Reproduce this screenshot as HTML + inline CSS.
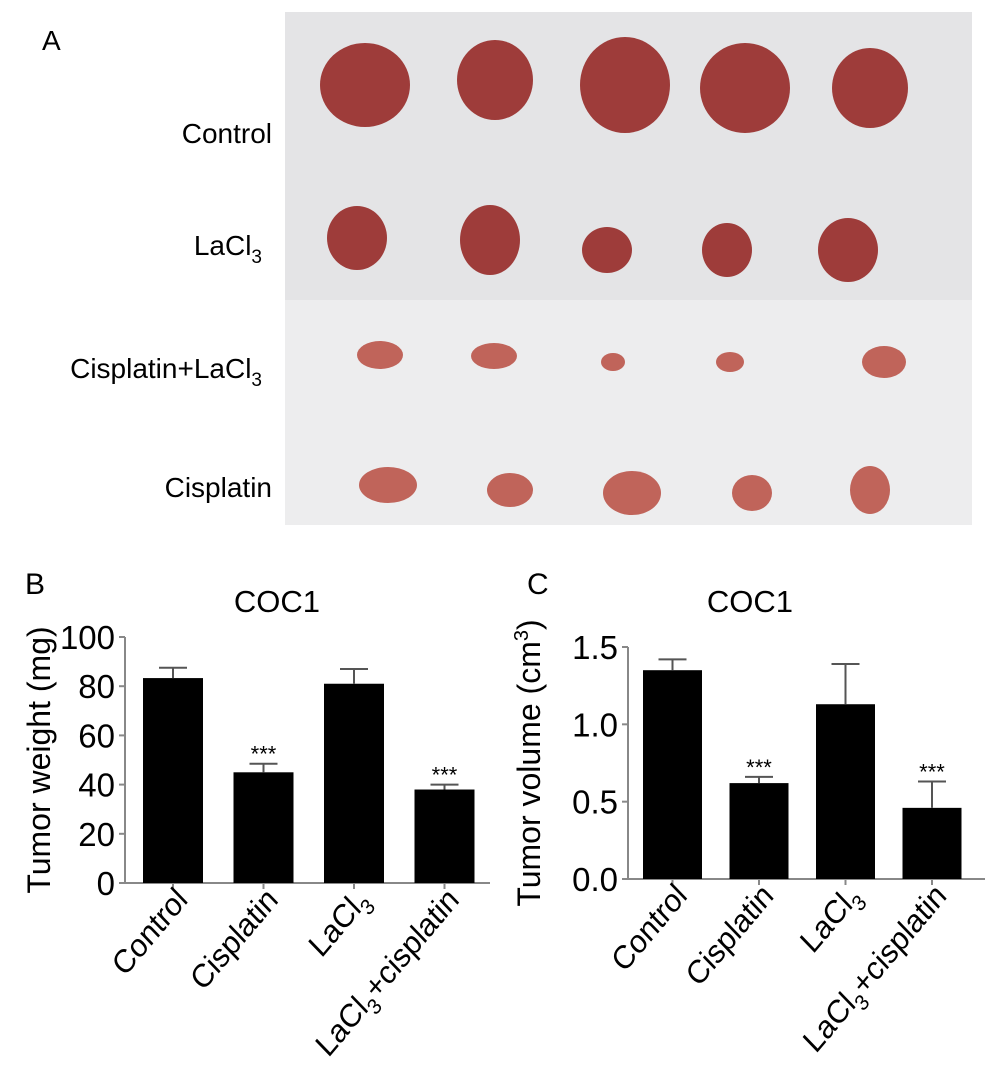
<!DOCTYPE html>
<html><head><meta charset="utf-8"><style>
body{margin:0;background:#fff;}
svg{display:block;font-family:"Liberation Sans",Arial,sans-serif;}
</style></head><body>
<svg id="fig" width="989" height="1073" viewBox="0 0 989 1073">
<g>
<text x="42" y="50" font-size="28">A</text>
<rect x="285" y="12" width="687" height="513" fill="#e4e4e6"/>
<rect x="285" y="300" width="687" height="225" fill="#ededee"/>
<text x="272" y="143" font-size="28" text-anchor="end">Control</text>
<text x="262" y="255" font-size="28" text-anchor="end">LaCl<tspan font-size="19" dy="8">3</tspan></text>
<text x="262" y="378" font-size="28" text-anchor="end">Cisplatin+LaCl<tspan font-size="19" dy="8">3</tspan></text>
<text x="272" y="497" font-size="28" text-anchor="end">Cisplatin</text>
<g id="tumors"></g>
</g>
<g id="chartB"></g>
<g id="chartC"></g>
</svg>
<script>
const categories = ["Control","Cisplatin","LaCl3","LaCl3+cisplatin"];
const weightValues = [83.3, 45, 81, 38];
const weightErrors = [4.2, 3.5, 6, 2];
const weightTicks = [0,20,40,60,80,100];
const volumeValues = [1.35, 0.62, 1.13, 0.46];
const volumeErrors = [0.07, 0.04, 0.26, 0.17];
const volumeTicks = ["0.0","0.5","1.0","1.5"];
const tumorRows = [
 [[365,85,45,42],[495,80,38,40],[625,85,45,48],[745,88,45,45],[870,88,38,40]],
 [[357,238,30,32],[490,240,30,35],[607,250,25,23],[727,250,25,27],[848,250,30,32]],
 [[380,355,23,14],[494,356,23,13],[613,362,12,9],[730,362,14,10],[884,362,22,16]],
 [[388,485,29,18],[510,490,23,17],[632,493,29,22],[752,493,20,18],[870,490,20,24]]
];
const NS="http://www.w3.org/2000/svg";
function mk(p,t,a){const e=document.createElementNS(NS,t);for(const k in a)e.setAttribute(k,a[k]);p.appendChild(e);return e;}
const tg=document.getElementById('tumors');
tumorRows.forEach((row,ri)=>row.forEach((t,i)=>{
 const e=mk(tg,'ellipse',{cx:t[0],cy:t[1],rx:t[2],ry:t[3],fill:ri<2?'#9e3c3a':'#c0645a'});
 
 
}));
function chart(id,o){
 const g=document.getElementById(id);
 const y=v=>o.y0-(v-o.min)/(o.max-o.min)*(o.y0-o.yTop);
 const lb=mk(g,'text',{x:o.panelX,y:594,'font-size':30});lb.textContent=o.panel;
 
 
 const tt=mk(g,'text',{x:o.titleX,y:612,'font-size':31,'text-anchor':'middle'});tt.textContent='COC1';
 
 
 const yl=mk(g,'text',{transform:`translate(${o.ylabX},${(o.y0+o.yTop)/2}) rotate(-90)`,'font-size':32,'text-anchor':'middle'});
 yl.innerHTML=o.ylab;
 
 
 const ax=mk(g,'line',{x1:o.ax,y1:o.yTop,x2:o.ax,y2:o.y0,stroke:'#888','stroke-width':2});
 
 
 const xa=mk(g,'line',{x1:o.ax-6,y1:o.y0,x2:o.axEnd,y2:o.y0,stroke:'#888','stroke-width':2});
 
 
 o.ticks.forEach(t=>{
  const yy=y(parseFloat(t));
  mk(g,'line',{x1:o.ax-6,y1:yy,x2:o.ax,y2:yy,stroke:'#888','stroke-width':2});
  const tl=mk(g,'text',{x:o.ax-10,y:yy+12,'font-size':33,'text-anchor':'end'});tl.textContent=t;
  
  
 });
 o.vals.forEach((v,i)=>{
  const x0=o.bx0+i*o.step, cx=x0+o.bw/2;
  const b=mk(g,'rect',{x:x0,y:y(v),width:o.bw,height:o.y0-y(v),fill:'#000'});
  
  
  const ye=y(v+o.errs[i]);
  mk(g,'line',{x1:cx,y1:y(v),x2:cx,y2:ye,stroke:'#555','stroke-width':2});
  mk(g,'line',{x1:cx-14,y1:ye,x2:cx+14,y2:ye,stroke:'#555','stroke-width':2});
  mk(g,'line',{x1:cx,y1:o.y0,x2:cx,y2:o.y0+6,stroke:'#888','stroke-width':2});
  if(i%2==1){const s=mk(g,'text',{x:cx,y:ye-2,'font-size':22,'text-anchor':'middle'});s.textContent='***';
   
   }
  const c=categories[i];
  const l=mk(g,'text',{transform:`translate(${cx+16},${o.y0+18}) rotate(-50) skewX(-6)`,'font-size':31,'text-anchor':'end'});
  l.innerHTML=c.startsWith('LaCl3')?('LaCl<tspan font-size="21" dy="9">3</tspan>'+(c.length>5?'<tspan dy="-9">+cisplatin</tspan>':'')):c;
  
  
 });
}
chart('chartB',{panel:'B',panelX:25,titleX:277,ylabX:50,ylab:'Tumor weight (mg)',ax:125,axEnd:490,y0:883,yTop:637,min:0,max:100,
 ticks:weightTicks.map(String),vals:weightValues,errs:weightErrors,bx0:143,bw:60,step:90.5});
chart('chartC',{panel:'C',panelX:527,titleX:750,ylabX:540,ylab:'Tumor volume (cm<tspan font-size="20" dy="-12">3</tspan><tspan dy="12">)</tspan>',ax:628,axEnd:985,y0:879,yTop:647,min:0,max:1.5,
 ticks:volumeTicks,vals:volumeValues,errs:volumeErrors,bx0:643,bw:59,step:86.5});
</script>
</body></html>
